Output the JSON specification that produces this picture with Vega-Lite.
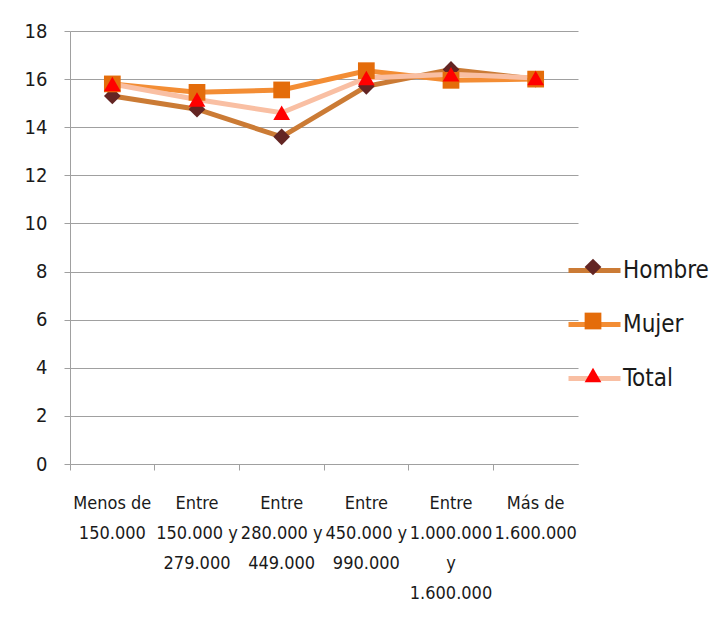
{
  "$schema": "https://vega.github.io/schema/vega-lite/v6.json",
  "width": 508,
  "height": 433,
  "autosize": "none",
  "padding": {"left": 70, "top": 31, "right": 149, "bottom": 163},
  "background": "white",
  "config": {
    "view": {"stroke": null},
    "font": "DejaVu Sans Condensed, sans-serif",
    "axis": {"labelFont": "DejaVu Sans Condensed, sans-serif", "labelColor": "#1a1a1a"},
    "legend": {"labelFont": "DejaVu Sans Condensed, sans-serif", "labelColor": "#1a1a1a"}
  },
  "data": {
    "values": [
      {"rango": "Menos de|150.000", "serie": "Hombre", "valor": 15.3},
      {"rango": "Entre|150.000 y|279.000", "serie": "Hombre", "valor": 14.75},
      {"rango": "Entre|280.000 y|449.000", "serie": "Hombre", "valor": 13.6},
      {"rango": "Entre|450.000 y|990.000", "serie": "Hombre", "valor": 15.7},
      {"rango": "Entre|1.000.000|y|1.600.000", "serie": "Hombre", "valor": 16.4},
      {"rango": "Más de|1.600.000", "serie": "Hombre", "valor": 16.0},
      {"rango": "Menos de|150.000", "serie": "Mujer", "valor": 15.8},
      {"rango": "Entre|150.000 y|279.000", "serie": "Mujer", "valor": 15.45},
      {"rango": "Entre|280.000 y|449.000", "serie": "Mujer", "valor": 15.55},
      {"rango": "Entre|450.000 y|990.000", "serie": "Mujer", "valor": 16.35},
      {"rango": "Entre|1.000.000|y|1.600.000", "serie": "Mujer", "valor": 15.95},
      {"rango": "Más de|1.600.000", "serie": "Mujer", "valor": 16.0},
      {"rango": "Menos de|150.000", "serie": "Total", "valor": 15.8},
      {"rango": "Entre|150.000 y|279.000", "serie": "Total", "valor": 15.15},
      {"rango": "Entre|280.000 y|449.000", "serie": "Total", "valor": 14.6},
      {"rango": "Entre|450.000 y|990.000", "serie": "Total", "valor": 16.05},
      {"rango": "Entre|1.000.000|y|1.600.000", "serie": "Total", "valor": 16.2},
      {"rango": "Más de|1.600.000", "serie": "Total", "valor": 16.05}
    ]
  },
  "encoding": {
    "x": {
      "field": "rango",
      "type": "nominal",
      "sort": null,
      "scale": {"type": "band", "paddingInner": 0, "paddingOuter": 0},
      "axis": {
        "title": null,
        "labelAngle": 0,
        "labelExpr": "split(datum.label, '|')",
        "labelFontSize": 18,
        "labelLineHeight": 30,
        "labelBaseline": "top",
        "labelPadding": 24,
        "labelLimit": 0,
        "bandPosition": 0,
        "tickSize": 6,
        "tickColor": "#a0a0a0",
        "domainColor": "#a0a0a0",
        "grid": false
      }
    },
    "y": {
      "field": "valor",
      "type": "quantitative",
      "scale": {"domain": [0, 18], "nice": false},
      "axis": {
        "title": null,
        "values": [0, 2, 4, 6, 8, 10, 12, 14, 16, 18],
        "labelFontSize": 20,
        "labelPadding": 17,
        "tickSize": 6,
        "tickColor": "#a0a0a0",
        "domainColor": "#a0a0a0",
        "gridColor": "#a0a0a0",
        "gridOpacity": 1,
        "grid": true
      }
    }
  },
  "layer": [
    {
      "mark": {"type": "line", "strokeJoin": "miter"},
      "encoding": {
        "color": {
          "field": "serie",
          "type": "nominal",
          "scale": {"domain": ["Hombre", "Mujer", "Total"], "range": ["#CB7B35", "#F38D34", "#F9BFA3"]},
          "legend": {
            "orient": "none",
            "legendX": 496,
            "legendY": 211,
            "title": null,
            "symbolType": "stroke",
            "symbolSize": 2704,
            "symbolStrokeWidth": 5,
            "labelFontSize": 24,
            "labelOffset": 0,
            "rowPadding": 13
          }
        },
        "strokeWidth": {
          "field": "serie",
          "type": "nominal",
          "scale": {"range": [5, 5, 7]},
          "legend": null
        }
      }
    },
    {
      "mark": {"type": "point", "filled": true, "size": 280, "opacity": 1},
      "encoding": {
        "fill": {
          "field": "serie",
          "type": "nominal",
          "scale": {"range": ["#632523", "#E46C0A", "#FF0000"]},
          "legend": {
            "orient": "none",
            "legendX": 511,
            "legendY": 224,
            "title": null,
            "symbolSize": 280,
            "labelFontSize": 24,
            "labelExpr": "''",
            "rowPadding": 30
          }
        },
        "shape": {
          "field": "serie",
          "type": "nominal",
          "scale": {"range": ["diamond", "square", "triangle-up"]},
          "legend": {
            "orient": "none",
            "legendX": 511,
            "legendY": 224,
            "title": null,
            "symbolSize": 280,
            "labelFontSize": 24,
            "labelExpr": "''",
            "rowPadding": 30
          }
        }
      }
    }
  ]
}
